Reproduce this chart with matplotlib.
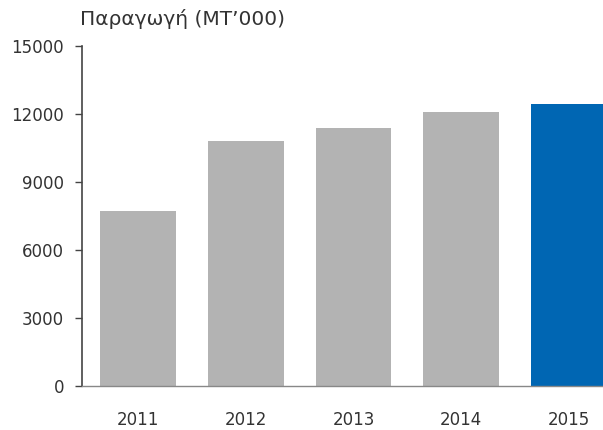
import matplotlib
matplotlib.use('Agg')
import matplotlib.pyplot as plt

plt.rcParams['font.family'] = ['DejaVu Sans']

# data
years = ['2011', '2012', '2013', '2014', '2015']
production = [7700, 10800, 11400, 12100, 12450]
bar_colors = ['#b3b3b3', '#b3b3b3', '#b3b3b3', '#b3b3b3', '#0066b3']
yticks = [0, 3000, 6000, 9000, 12000, 15000]

fig = plt.figure(figsize=(6.03, 4.30), dpi=100)
ax = fig.add_axes([82 / 603, 44 / 430, 521 / 603, 340 / 430])

x = range(len(years))
ax.bar(x, production, width=0.704, color=bar_colors)

ax.set_xlim(-0.519, 4.315)
ax.set_ylim(0, 15000)
ax.set_yticks(yticks)
ax.set_yticklabels([str(t) for t in yticks])
ax.set_xticks(list(x))
ax.set_xticklabels(years)

for s in ['top', 'right']:
    ax.spines[s].set_visible(False)
ax.spines['left'].set_color('#444444')
ax.spines['left'].set_linewidth(1.2)
ax.spines['bottom'].set_color('#888888')
ax.spines['bottom'].set_linewidth(1.0)

ax.tick_params(axis='y', length=5, width=1, color='#444444', pad=8,
               labelsize=12, labelcolor='#333333')
ax.tick_params(axis='x', length=0, pad=18, labelsize=12, labelcolor='#333333')

fig.text(80 / 603, 1 - 19 / 430, 'Παραγωγή (MT’000)', ha='left', va='center',
         fontsize=14.5, color='#333333')

fig.savefig('out.png', dpi=100)
